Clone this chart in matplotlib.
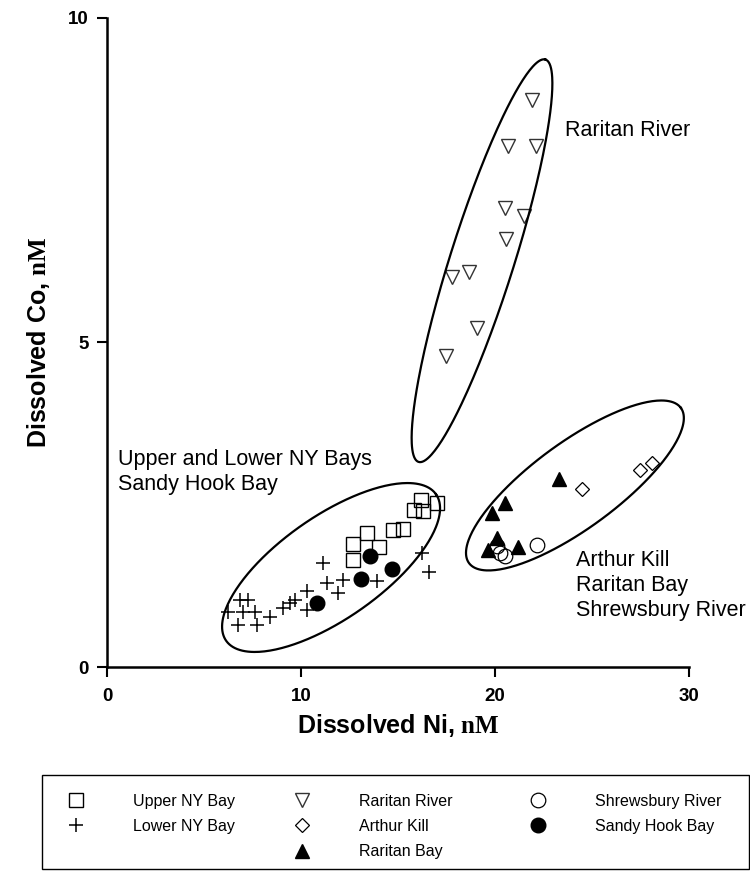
import numpy as np
import matplotlib.pyplot as plt
from matplotlib import font_manager
from matplotlib.lines import Line2D
from matplotlib.patches import Rectangle

# Dissolved Ni (x) and Co (y), nM
upper_ny_ni = [16.17, 17.03, 15.82, 16.30, 14.76, 15.24, 12.66, 13.40, 14.02, 12.70]
upper_ny_co = [2.58, 2.53, 2.42, 2.41, 2.11, 2.13, 1.90, 2.06, 1.85, 1.65]

lower_ny_ni = [6.24, 6.86, 7.27, 7.01, 7.63, 6.75, 7.73, 8.40, 9.07, 9.43,
               9.69, 10.31, 10.31, 11.13, 11.34, 11.91, 12.16, 13.92, 16.24, 16.60]
lower_ny_co = [0.85, 1.03, 1.03, 0.85, 0.85, 0.65, 0.65, 0.77, 0.91, 0.99,
               1.03, 1.17, 0.88, 1.60, 1.29, 1.14, 1.34, 1.33, 1.76, 1.46]

raritan_river_ni = [21.92, 20.67, 22.10, 20.50, 21.49, 20.57, 17.77, 18.68, 19.09, 17.46]
raritan_river_co = [8.73, 8.03, 8.03, 7.07, 6.95, 6.59, 6.01, 6.09, 5.23, 4.79]

arthur_kill_ni = [24.47, 27.47, 28.08]
arthur_kill_co = [2.74, 3.04, 3.15]

raritan_bay_ni = [23.32, 20.52, 19.87, 20.10, 19.65, 21.16]
raritan_bay_co = [2.90, 2.52, 2.37, 1.98, 1.81, 1.85]

shrewsbury_ni = [22.15, 20.10, 20.26, 20.52]
shrewsbury_co = [1.88, 1.86, 1.76, 1.71]

sandy_hook_ni = [13.56, 13.09, 14.71, 10.84]
sandy_hook_co = [1.71, 1.35, 1.51, 0.98]

# grouping ellipses: centre, semi-axis vectors (data units)
ellipse_centres = [(19.33, 6.26), (11.55, 1.533), (24.12, 2.797)]
ellipse_major = [(3.27, 3.10), (5.41, 1.128), (5.46, 1.196)]
ellipse_minor = [(1.57, -0.148), (1.515, -0.649), (1.309, -0.533)]

# fonts
names = {f.name for f in font_manager.fontManager.ttflist}
narrow = "Liberation Sans Narrow" in names
if narrow:
    cond = "Liberation Sans Narrow"
    tick_size, label_size, leg_size = 15, 21, 13
else:
    cond = "Liberation Sans"
    tick_size, label_size, leg_size = 13.5, 18, 11.5
plt.rcParams["font.family"] = ["Liberation Sans", "DejaVu Sans"]
plt.rcParams["mathtext.fontset"] = "custom"
plt.rcParams["mathtext.bf"] = "Liberation Serif:bold"
plt.rcParams["mathtext.rm"] = "Liberation Serif"

fig = plt.figure(figsize=(7.5, 8.73), dpi=100)
ax = fig.add_axes([107 / 750, 206 / 873, 582 / 750, 649 / 873])

# marker styles
st_upper = dict(marker="s", ms=10, mfc="none", mec="k", mew=1.0, ls="none")
st_lower = dict(marker="+", ms=10.5, mec="k", mew=1.1, ls="none")
st_rriver = dict(marker="v", ms=9.5, mfc="none", mec="#333333", mew=1.0, ls="none")
st_akill = dict(marker="D", ms=7, mfc="none", mec="k", mew=0.9, ls="none")
st_rbay = dict(marker="^", ms=10.5, mfc="k", mec="k", ls="none")
st_shrew = dict(marker="o", ms=10.5, mfc="none", mec="k", mew=0.9, ls="none")
st_sandy = dict(marker="o", ms=10.5, mfc="k", mec="k", ls="none")

ax.plot(upper_ny_ni, upper_ny_co, **st_upper)
ax.plot(lower_ny_ni, lower_ny_co, **st_lower)
ax.plot(raritan_river_ni, raritan_river_co, **st_rriver)
ax.plot(arthur_kill_ni, arthur_kill_co, **st_akill)
ax.plot(raritan_bay_ni, raritan_bay_co, **st_rbay)
ax.plot(shrewsbury_ni, shrewsbury_co, **st_shrew)
ax.plot(sandy_hook_ni, sandy_hook_co, **st_sandy)

t = np.linspace(0, 2 * np.pi, 300)
for (cx, cy), (ax_, ay), (bx, by) in zip(ellipse_centres, ellipse_major, ellipse_minor):
    ax.plot(cx + ax_ * np.cos(t) + bx * np.sin(t),
            cy + ay * np.cos(t) + by * np.sin(t), color="k", lw=1.6)

# group labels
ax.text(23.6, 8.27, "Raritan River", fontsize=15.5, va="center")
ax.text(0.57, 3.0, "Upper and Lower NY Bays\nSandy Hook Bay", fontsize=15.5,
        va="center", linespacing=1.25)
ax.text(24.2, 1.26, "Arthur Kill\nRaritan Bay\nShrewsbury River", fontsize=15.5,
        va="center", linespacing=1.25)

ax.set_xlim(0, 30)
ax.set_ylim(0, 10)
ax.set_xticks([0, 10, 20, 30])
ax.set_yticks([0, 5, 10])
for s in ["top", "right"]:
    ax.spines[s].set_visible(False)
for s in ["left", "bottom"]:
    ax.spines[s].set_linewidth(1.8)
ax.tick_params(direction="out", length=7, width=1.5)
ax.tick_params(axis="x", pad=8)
ax.tick_params(axis="y", pad=6)
for lab in ax.get_xticklabels() + ax.get_yticklabels():
    lab.set_family(cond)
    lab.set_weight("bold")
    lab.set_size(tick_size)

ax.set_xlabel(r"Dissolved Ni, $\mathbf{nM}$", family=cond, weight="bold",
              size=label_size, labelpad=5)
ax.set_ylabel(r"Dissolved Co, $\mathbf{nM}$", family=cond, weight="bold",
              size=label_size, labelpad=12)

# legend, three columns placed separately
leg_font = dict(family=cond, size=leg_size)
fs_px = leg_size * 100 / 72
cols = [
    ([st_upper, st_lower], ["Upper NY Bay", "Lower NY Bay"], 76),
    ([st_rriver, st_akill, st_rbay], ["Raritan River", "Arthur Kill", "Raritan Bay"], 302),
    ([st_shrew, st_sandy], ["Shrewsbury River", "Sandy Hook Bay"], 538),
]
for styles, labels, xm in cols:
    handles = [Line2D([], [], **s) for s in styles]
    fig.legend(handles, labels, loc="upper left",
               bbox_to_anchor=((xm - fs_px) / 750, (873 - 794) / 873),
               frameon=False, borderpad=0, borderaxespad=0, handlelength=2,
               handletextpad=(57 - fs_px) / fs_px, labelspacing=0.63, prop=leg_font)

fig.add_artist(Rectangle((42 / 750, 4 / 873), 707 / 750, 94 / 873,
                         transform=fig.transFigure, fill=False, ec="k", lw=1))

fig.savefig("out.png", dpi=100)
